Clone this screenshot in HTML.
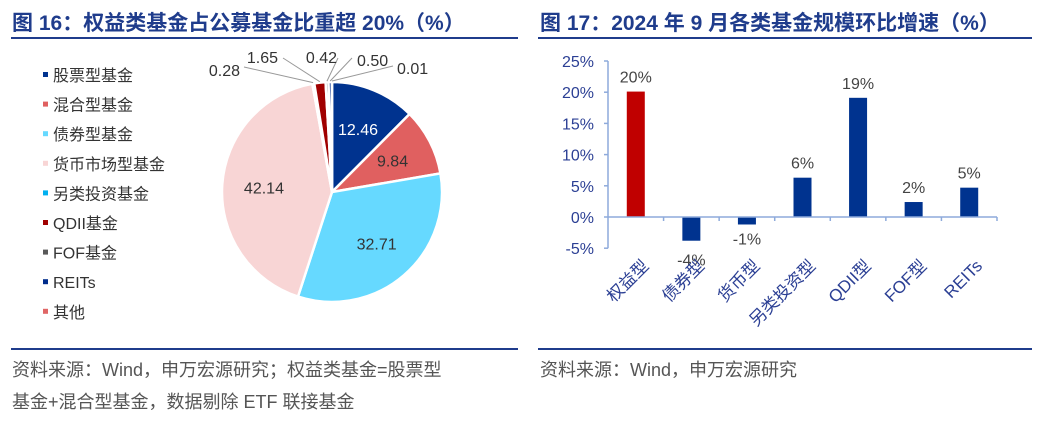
<!DOCTYPE html>
<html><head><meta charset="utf-8"><style>
body{margin:0;background:#fff;font-family:"Liberation Sans","Noto Sans CJK SC",sans-serif;}
svg text{font-family:"Liberation Sans","Noto Sans CJK SC",sans-serif;}
</style></head><body>
<svg id="s" width="1045" height="420" xmlns="http://www.w3.org/2000/svg">
<text x="12" y="30" font-size="21" font-weight="bold" fill="#1f3c8c">图 16：权益类基金占公募基金比重超 20%（%）</text>
<rect x="11" y="37" width="507" height="2" fill="#1f3c8c"/>
<text x="540" y="30" font-size="21" font-weight="bold" fill="#1f3c8c">图 17：2024 年 9 月各类基金规模环比增速（%）</text>
<rect x="538" y="37" width="494" height="2" fill="#1f3c8c"/>
<rect x="11" y="348" width="507" height="2" fill="#1f3c8c"/>
<rect x="538" y="348" width="494" height="2" fill="#1f3c8c"/>
<text x="12" y="376" font-size="18" fill="#555">资料来源：Wind，申万宏源研究；权益类基金=股票型</text>
<text x="12" y="408" font-size="18" fill="#555">基金+混合型基金，数据剔除 ETF 联接基金</text>
<text x="540" y="376" font-size="18" fill="#555">资料来源：Wind，申万宏源研究</text>
<g id="pie"></g>
<g id="legend"></g>
<g id="bar"></g>
</svg>
<script>
const pieNames=["股票型基金","混合型基金","债券型基金","货币市场型基金","另类投资基金","QDII基金","FOF基金","REITs","其他"];
const pieValues=[12.46,9.84,32.71,42.14,0.28,1.65,0.42,0.50,0.01];
const pieColors=["#00338f","#e06060","#66d9ff","#f8d5d5","#00b0f0","#a00000","#595959","#002c8c","#e06666"];
const barCats=["权益型","债券型","货币型","另类投资型","QDII型","FOF型","REITs"];
const barValues=[20.1,-3.8,-1.2,6.3,19.1,2.4,4.7];
const barLabels=["20%","-4%","-1%","6%","19%","2%","5%"];
const yTicks=[-5,0,5,10,15,20,25];
const NS="http://www.w3.org/2000/svg";
function mk(p,t,a){const e=document.createElementNS(NS,t);for(const k in a)e.setAttribute(k,a[k]);p.appendChild(e);return e;}
const pie=document.getElementById('pie');
const cx=332,cy=192,R=110;
const tot=pieValues.reduce((a,b)=>a+b,0);
let ang=0;
pieValues.forEach((v,i)=>{
  const a0=ang/tot*2*Math.PI, a1=(ang+v)/tot*2*Math.PI; ang+=v;
  const x0=cx+R*Math.sin(a0),y0=cy-R*Math.cos(a0),x1=cx+R*Math.sin(a1),y1=cy-R*Math.cos(a1);
  const large=(a1-a0)>Math.PI?1:0;
  const p=mk(pie,'path',{d:`M${cx},${cy}L${x0},${y0}A${R},${R} 0 ${large} 1 ${x1},${y1}Z`,fill:pieColors[i],stroke:'#fff','stroke-width':2.5});
  
  
  const mid=(a0+a1)/2;
  if(v>5){const r=R*0.62;const lx=cx+r*Math.sin(mid),ly=cy-r*Math.cos(mid)+6;
    const t=mk(pie,'text',{x:lx,y:ly,'font-size':16,fill:i===0?'#fff':'#333','text-anchor':'middle'});t.textContent=v.toFixed(2);
    
    
  }
});
const smallPos=[[4,240,76,'end',244,72],[5,278,63,'end',283,63],[6,337,63,'end',338,63],[7,357,66,'start',352,63],[8,397,74,'start',393,71]];
let acc=[];let s=0;pieValues.forEach(v=>{acc.push(s);s+=v;});
smallPos.forEach(([i,x,y,anc,sx,sy])=>{
  const mid=(acc[i]+pieValues[i]/2)/tot*2*Math.PI;
  const ex=cx+(R+1)*Math.sin(mid),ey=cy-(R+1)*Math.cos(mid);
  const l=mk(pie,'polyline',{points:`${sx},${sy-5} ${ex},${ey}`,fill:'none',stroke:'#999','stroke-width':1});
  
  
  const t=mk(pie,'text',{x:x,y:y,'font-size':16,fill:'#333','text-anchor':anc});t.textContent=pieValues[i].toFixed(2);
  
  
});
const lg=document.getElementById('legend');
pieNames.forEach((n,i)=>{
  const y=75+i*29.6;
  const r=mk(lg,'rect',{x:43,y:y-3,width:5,height:5,fill:pieColors[i]});
  
  
  const t=mk(lg,'text',{x:53,y:y+6,'font-size':16,fill:'#333'});t.textContent=n;
  
  
});
const bar=document.getElementById('bar');
const X0=608,X1=997,Y0=217,pxPer=31.2/5;
const yS=v=>Y0-v*pxPer;
const bw=(X1-X0)/barCats.length;
mk(bar,'line',{x1:X0,y1:yS(25),x2:X0,y2:yS(-5),stroke:'#8eaadb','stroke-width':1.5});
yTicks.forEach(v=>{
  mk(bar,'line',{x1:X0-4,y1:yS(v),x2:X0,y2:yS(v),stroke:'#8eaadb','stroke-width':1.5});
  const t=mk(bar,'text',{x:594,y:yS(v)+6,'font-size':16,fill:'#2b3f94','text-anchor':'end'});t.textContent=v+'%';
  
  
});
barCats.forEach((c,i)=>{
  const mx=X0+bw*(i+0.5),v=barValues[i];
  const r=mk(bar,'rect',{x:mx-9,y:Math.min(yS(v),Y0),width:18,height:Math.abs(yS(v)-Y0),fill:i===0?'#c00000':'#00338f'});
  
  
  const ly=v>=0?yS(v)-9:yS(v)+ (i===1?25:20);
  const t=mk(bar,'text',{x:mx,y:ly,'font-size':16,fill:'#444','text-anchor':'middle'});t.textContent=barLabels[i];
  
  
  const xl=mk(bar,'text',{x:0,y:0,'font-size':17,fill:'#2b3f94','text-anchor':'end',transform:`translate(${mx+14},${267}) rotate(-45)`});xl.textContent=c;
  
  
});
mk(bar,'line',{x1:X0,y1:Y0,x2:X1,y2:Y0,stroke:'#8eaadb','stroke-width':1.5});
for(let i=1;i<=barCats.length;i++)mk(bar,'line',{x1:X0+bw*i,y1:Y0,x2:X0+bw*i,y2:Y0+4,stroke:'#8eaadb','stroke-width':1.5});
</script>
</body></html>
